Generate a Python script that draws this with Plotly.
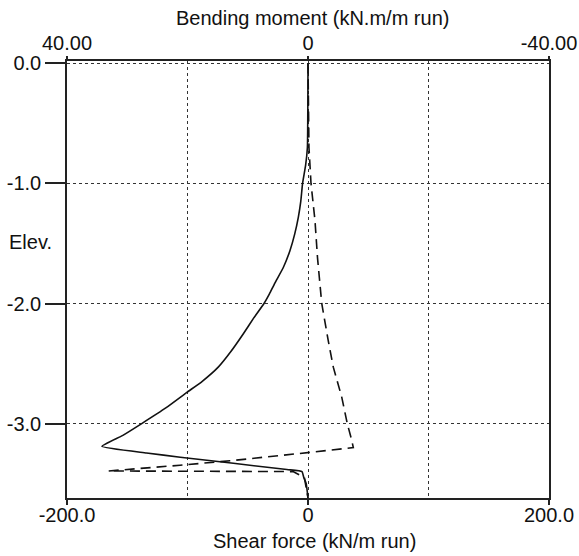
import plotly.graph_objects as go

# Bending moment (kN.m/m run) vs elevation  -- solid line, top axis
bm_elev = [0.0, -0.70, -0.85, -1.00, -1.15, -1.28, -1.42, -1.56, -1.70, -1.83,
           -1.92, -2.00, -2.12, -2.25, -2.40, -2.53, -2.65, -2.74, -2.87, -3.00,
           -3.10, -3.19, -3.245, -3.28, -3.383, -3.40, -3.45, -3.50, -3.62]
bm_vals = [0.0, 0.1, 0.4, 0.9, 1.2, 1.6, 2.2, 3.0, 4.1, 5.5,
           6.4, 7.3, 9.0, 10.7, 12.8, 14.9, 17.6, 20.1, 23.6, 27.6,
           30.8, 34.2, 26.8, 21.2, 3.5, 1.0, 0.7, 0.3, 0.0]

# Shear force (kN/m run) vs elevation -- dashed line, bottom axis
sf_elev = [0.0, -0.20, -0.70, -1.00, -1.31, -1.62, -2.00, -2.31, -2.53, -2.78,
           -3.00, -3.14, -3.20, -3.237, -3.31, -3.347, -3.395, -3.40, -3.45, -3.62]
sf_vals = [0.0, 0.3, 0.8, 2.5, 5.8, 7.9, 11.4, 16.8, 21.0, 28.0,
           32.6, 36.3, 37.6, 4.4, -64.7, -106.2, -165.7, -12.4, -3.0, 0.0]

sf_ticks = [-200, 0, 200]
sf_ticktext = ["-200.0", "0", "200.0"]
bm_ticks = [40, 0, -40]
bm_ticktext = ["40.00", "0", "-40.00"]
elev_ticks = [0, -1, -2, -3]
elev_ticktext = ["0.0", "-1.0", "-2.0", "-3.0"]

FONT = dict(family="Liberation Sans, Arial, sans-serif", size=20, color="#111111")
AX = "#222222"

fig = go.Figure()
fig.add_trace(go.Scatter(x=sf_vals, y=sf_elev, mode="lines", xaxis="x", yaxis="y",
                         line=dict(color="#111111", width=1.6, dash="10px,6px"),
                         name="Shear force", showlegend=False))
fig.add_trace(go.Scatter(x=bm_vals, y=bm_elev, mode="lines", xaxis="x2", yaxis="y",
                         line=dict(color="#111111", width=1.6, shape="spline", smoothing=0.4),
                         name="Bending moment", showlegend=False))

fig.update_layout(
    width=579, height=556,
    margin=dict(l=67, r=30, t=61, b=58),
    paper_bgcolor="white", plot_bgcolor="white",
    font=FONT,
    xaxis=dict(range=[-200, 200], tickvals=sf_ticks, ticktext=sf_ticktext,
               showline=True, linecolor=AX, linewidth=1.5,
               ticks="outside", ticklen=5, tickcolor=AX, tickwidth=1.5,
               ticklabelstandoff=-7,
               showgrid=True, gridcolor="#333333", gridwidth=1, griddash="dot",
               minor=dict(dtick=100, tick0=0, showgrid=True, gridcolor="#333333",
                          gridwidth=1, griddash="dot", ticks=""),
               zeroline=False, automargin=False, fixedrange=True),
    xaxis2=dict(range=[40, -40], overlaying="x", side="top", anchor="y",
                tickvals=bm_ticks, ticktext=bm_ticktext,
                showline=True, linecolor=AX, linewidth=1.5,
                ticks="outside", ticklen=3, tickcolor=AX, tickwidth=1.5,
                ticklabelstandoff=-2,
                showgrid=False, zeroline=False, automargin=False),
    yaxis=dict(range=[-3.62, 0.02], tickvals=elev_ticks, ticktext=elev_ticktext,
               showline=True, linecolor=AX, linewidth=1.5, mirror=True,
               ticks="outside", ticklen=20, tickcolor=AX, tickwidth=1.5,
               showgrid=True, gridcolor="#333333", gridwidth=1, griddash="dot",
               zeroline=False, automargin=False),
    annotations=[
        dict(text="Bending moment (kN.m/m run)", xref="paper", yref="paper",
             x=0.5, y=1, yshift=43, xshift=4, showarrow=False, font=FONT,
             xanchor="center", yanchor="middle"),
        dict(text="Shear force (kN/m run)", xref="paper", yref="paper",
             x=0.5, y=0, yshift=-43, xshift=6, showarrow=False, font=FONT,
             xanchor="center", yanchor="middle"),
        dict(text="Elev.", xref="paper", yref="paper",
             x=0, y=0.585, xshift=-37, showarrow=False, font=FONT,
             xanchor="center", yanchor="middle"),
    ],
)

fig.write_html("out.html")
